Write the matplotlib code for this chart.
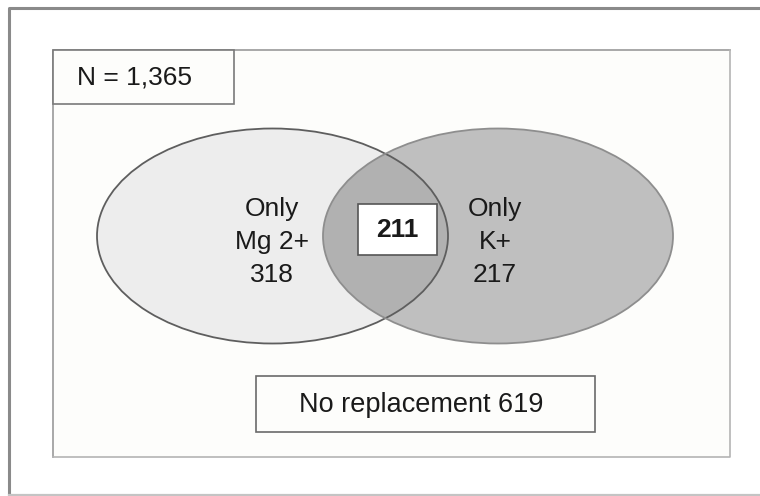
import matplotlib
matplotlib.use("Agg")
import matplotlib.pyplot as plt
from matplotlib.patches import Ellipse, Rectangle

# ---- data ----
total_n = 1365
set_labels = ["Only\nMg 2+", "Only\nK+"]
only_counts = [318, 217]
both_count = 211
neither_label = "No replacement"
neither_count = 619

plt.rcParams['font.family'] = ['Liberation Sans', 'DejaVu Sans']

fig = plt.figure(figsize=(7.6, 4.96), dpi=100)
ax = fig.add_axes([0, 0, 1, 1])
ax.set_xlim(0, 760)
ax.set_ylim(496, 0)
ax.axis('off')
fig.patch.set_facecolor('white')

# outer frame (top/left darker, bottom lighter)
ax.plot([9, 9, 770], [495, 8, 8], color='#8a8a8a', lw=2.2, solid_capstyle='butt', zorder=1)
ax.plot([9, 770], [495, 495], color='#c4c4c4', lw=1.6, zorder=1)
# inner panel
ax.add_patch(Rectangle((53, 50), 677, 407, facecolor='#fdfdfb', edgecolor='none', zorder=1))
ax.plot([53, 53, 730], [457, 50, 50], color='#9a9a9a', lw=1.2, zorder=1.5)
ax.plot([53, 730, 730], [457, 457, 50], color='#b4b4b4', lw=1.2, zorder=1.5)
# N box
ax.add_patch(Rectangle((53, 50), 181, 54, facecolor='#fdfdfb', edgecolor='#7a7a7a', lw=1.2, zorder=2))
ax.text(77, 77, f"N = {total_n:,}", fontsize=19, ha='left', va='center', color='#1a1a1a', zorder=3)

# ellipses
left = dict(xy=(272.5, 236), width=351, height=215)
right = dict(xy=(498, 236), width=350, height=215)
e_left = Ellipse(**left, facecolor='#ededed', edgecolor='none', zorder=2)
e_right = Ellipse(**right, facecolor='#bfbfbf', edgecolor='none', zorder=3)
ax.add_patch(e_left)
ax.add_patch(e_right)
e_overlap = Ellipse(**left, facecolor='#b1b1b1', edgecolor='none', zorder=4)
ax.add_patch(e_overlap)
e_overlap.set_clip_path(e_right)
ax.add_patch(Ellipse(**left, fill=False, edgecolor='#5e5e5e', lw=1.3, zorder=5))
ax.add_patch(Ellipse(**right, fill=False, edgecolor='#8e8e8e', lw=1.3, zorder=5))

# labels
ax.text(272, 242, f"{set_labels[0]}\n{only_counts[0]}", fontsize=19, ha='center', va='center',
        linespacing=1.45, color='#1a1a1a', zorder=6)
ax.text(495, 242, f"{set_labels[1]}\n{only_counts[1]}", fontsize=19, ha='center', va='center',
        linespacing=1.45, color='#1a1a1a', zorder=6)

# overlap box
ax.add_patch(Rectangle((358, 204), 79, 51, facecolor='white', edgecolor='#555555', lw=1.2, zorder=6))
ax.text(397.5, 230, f"{both_count}", fontsize=19, fontweight='bold', ha='center', va='center',
        color='#1a1a1a', zorder=7)

# no replacement box
ax.add_patch(Rectangle((256, 376), 339, 56, facecolor='#fdfdfb', edgecolor='#6a6a6a', lw=1.2, zorder=6))
ax.text(421, 405, f"{neither_label} {neither_count}", fontsize=19.5, ha='center', va='center',
        color='#1a1a1a', zorder=7)

fig.savefig("out.png", dpi=100)
